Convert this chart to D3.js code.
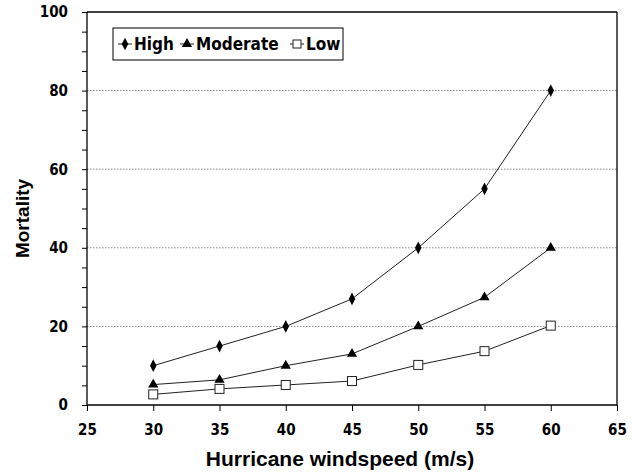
<!DOCTYPE html>
<html><head><meta charset="utf-8">
<script src="https://cdn.jsdelivr.net/npm/d3@7"></script>
<style>body{margin:0;background:#fff}svg{display:block}</style>
</head><body>
<svg id="c" width="632" height="473"></svg>
<script>
const windspeed = [30, 35, 40, 45, 50, 55, 60];
const high = [10, 15, 20, 27, 40, 55, 80];
const moderate = [5.2, 6.4, 10, 13, 20, 27.4, 40];
const low = [2.7, 4.1, 5.1, 6.1, 10.2, 13.7, 20.2];
const seriesNames = ["High", "Moderate", "Low"];
const xTicks = [25, 30, 35, 40, 45, 50, 55, 60, 65];
const yTicks = [0, 20, 40, 60, 80, 100];

const svg = d3.select("#c");
const L = 87, R = 617, T = 12, B = 405;
const x = d3.scaleLinear().domain([25, 65]).range([L, R]);
const y = d3.scaleLinear().domain([0, 100]).range([B, T]);
const font = "'DejaVu Sans Condensed','Liberation Sans Narrow','Arial Narrow',sans-serif";

// gridlines
svg.append("g").selectAll("line").data([20, 40, 60, 80]).join("line")
  .attr("x1", L).attr("x2", R).attr("y1", d => y(d)).attr("y2", d => y(d))
  .attr("stroke", "#888").attr("stroke-width", 1).attr("stroke-dasharray", "1.5,1.5");

// frame top/right
svg.append("line").attr("x1", L).attr("x2", R).attr("y1", T).attr("y2", T).attr("stroke", "#000").attr("stroke-width", 1.3);
svg.append("line").attr("x1", R).attr("x2", R).attr("y1", T).attr("y2", B).attr("stroke", "#000").attr("stroke-width", 1.3);

// y axis
const yAxis = d3.axisLeft(y).tickValues(d3.range(0, 101, 5)).tickSize(5).tickFormat(d => yTicks.includes(d) ? d : "");
const gy = svg.append("g").attr("transform", `translate(${L},0)`).call(yAxis);
gy.select(".domain").attr("stroke-width", 1.3).attr("d", `M0,${T}V${B}`);
gy.selectAll("text").attr("font-family", font).attr("font-weight", "bold").attr("font-size", 15).attr("fill", "#000").attr("dx", "-11");

// x axis
const xAxis = d3.axisBottom(x).tickValues(xTicks).tickSize(6).tickFormat(d => d);
const gx = svg.append("g").attr("transform", `translate(0,${B})`).call(xAxis);
gx.select(".domain").attr("stroke-width", 1.6).attr("d", `M${L},0H${R}`);
gx.selectAll("text").attr("font-family", font).attr("font-weight", "bold").attr("font-size", 15).attr("fill", "#000").attr("dy", "1.4em");

// lines
const data = [high, moderate, low];
const line = d3.line().x((d, i) => x(windspeed[i])).y(d => y(d));
data.forEach(s => {
  svg.append("path").attr("d", line(s)).attr("fill", "none").attr("stroke", "#222").attr("stroke-width", 1);
});

// markers
const diamond = d3.symbol().type(d3.symbolDiamond).size(30);
const tri = d3.symbol().type(d3.symbolTriangle).size(45);
svg.append("g").selectAll("path").data(high).join("path")
  .attr("d", diamond()).attr("transform", (d, i) => `translate(${x(windspeed[i])},${y(d)}) scale(1.1,1.25)`).attr("fill", "#000");
svg.append("g").selectAll("path").data(moderate).join("path")
  .attr("d", tri()).attr("transform", (d, i) => `translate(${x(windspeed[i])},${y(d)})`).attr("fill", "#000");
svg.append("g").selectAll("rect").data(low).join("rect")
  .attr("x", (d, i) => x(windspeed[i]) - 4.5).attr("y", d => y(d) - 4.5).attr("width", 9).attr("height", 9)
  .attr("fill", "#fff").attr("stroke", "#222").attr("stroke-width", 1);

// legend
const lg = svg.append("g");
lg.append("rect").attr("x", 113).attr("y", 28).attr("width", 230).attr("height", 32).attr("fill", "#fff").attr("stroke", "#000").attr("stroke-width", 1);
const lx = [118, 180, 290];
seriesNames.forEach((n, i) => {
  const cx = lx[i] + 7, cy = 44;
  lg.append("line").attr("x1", lx[i]).attr("x2", lx[i] + 14).attr("y1", cy).attr("y2", cy).attr("stroke", "#222");
  if (i === 0) lg.append("path").attr("d", diamond()).attr("transform", `translate(${cx},${cy}) scale(1.1,1.25)`).attr("fill", "#000");
  if (i === 1) lg.append("path").attr("d", tri()).attr("transform", `translate(${cx},${cy})`).attr("fill", "#000");
  if (i === 2) lg.append("rect").attr("x", cx - 4).attr("y", cy - 4).attr("width", 8).attr("height", 8).attr("fill", "#fff").attr("stroke", "#222");
  lg.append("text").attr("x", lx[i] + 16).attr("y", cy + 6).text(n)
    .attr("font-family", font).attr("font-weight", "bold").attr("font-size", 17).attr("fill", "#000");
});

// axis titles
svg.append("text").attr("x", 340).attr("y", 466).attr("text-anchor", "middle")
  .attr("font-family", "'Liberation Sans',Arial,sans-serif").attr("font-weight", "bold").attr("font-size", 21).text("Hurricane windspeed (m/s)");
svg.append("text").attr("transform", `translate(29,${(T + B) / 2 + 10}) rotate(-90)`).attr("text-anchor", "middle")
  .attr("font-family", "'Liberation Sans',Arial,sans-serif").attr("font-weight", "bold").attr("font-size", 19).text("Mortality");
</script>
</body></html>
